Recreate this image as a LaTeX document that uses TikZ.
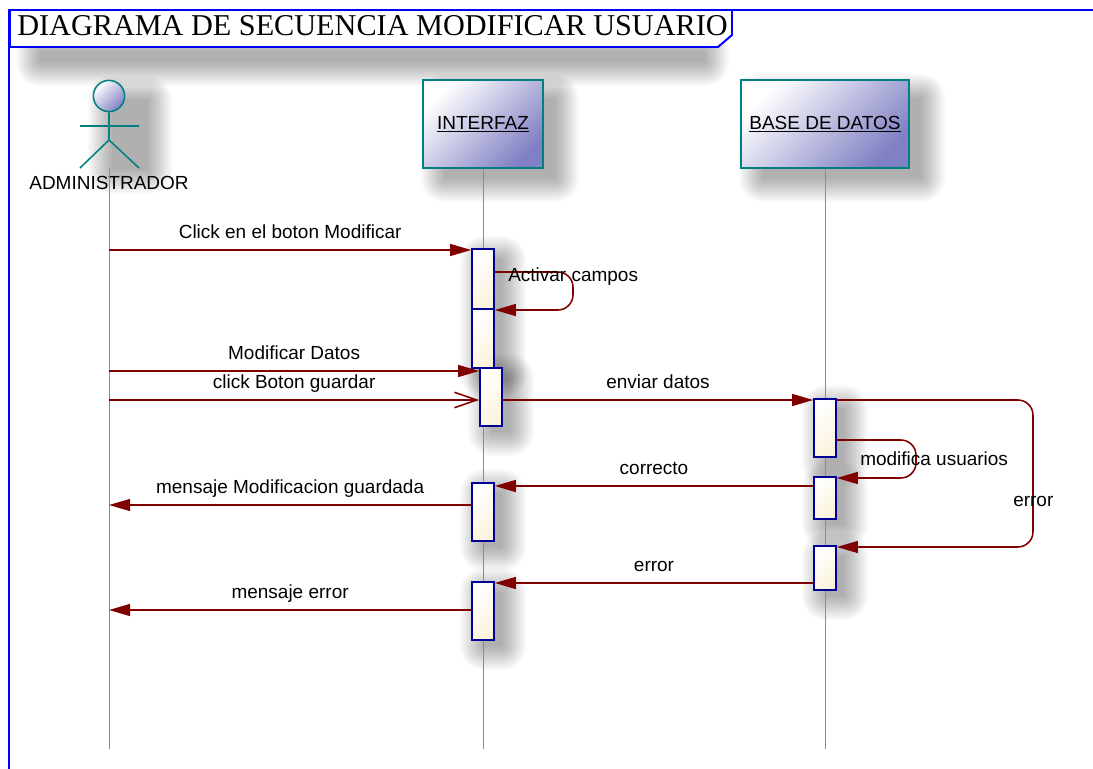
\documentclass[tikz,border=0pt]{standalone}
\usepackage{fontspec}
\setmainfont{Liberation Serif}
\setsansfont{Liberation Sans}
\usetikzlibrary{arrows.meta, calc, positioning}
\definecolor{msgred}{RGB}{128,0,0}
\definecolor{objteal}{RGB}{0,128,128}
\definecolor{objlav}{RGB}{128,128,196}
\definecolor{actblue}{RGB}{0,0,150}
\definecolor{actcream}{RGB}{252,243,220}
\definecolor{lifeteal}{RGB}{70,170,170}
\definecolor{frameblue}{RGB}{0,0,255}
\newcommand{\lblfont}{\sffamily\fontsize{13.5}{16}\selectfont}
\newcommand{\softshadow}[4]{%
  \foreach \r [evaluate=\r as \rc using \r*0.7+0.1] in {0,1.5,...,24}
    {\fill[black, opacity=0.02, rounded corners=\rc pt]
       (#1-\r,#2-\r) rectangle (#3+\r,#4+\r);}}

\begin{document}
\begin{tikzpicture}[% styles used in the diagram
          x = 0.025cm, y = -0.025cm,
          > = {Triangle[length=15pt, width=8.5pt]},
obj/.style = {draw=objteal, line width=1.1pt,
              top color=white, bottom color=objlav, shading angle=45,
              minimum height=2.2cm, inner sep=0pt, font=\lblfont},
head/.style = {circle, draw=objteal, line width=1.1pt,
              top color=white, bottom color=objlav, shading angle=45,
              minimum size=0.78cm, inner sep=0pt},
act/.style = {draw=actblue, line width=1.1pt,
              top color=white, bottom color=actcream, shading angle=45,
              minimum width=0.55cm, inner sep=0pt},
msg/.style = {draw=msgred, line width=1.1pt, ->},
open msg/.style = {msg, -{Straight Barb[length=16pt, width=11pt]}},
self msg/.style = {msg, rounded corners=0.38cm},
life/.style = {draw=lifeteal, line width=0.5pt},
lbl/.style = {font=\lblfont, inner sep=0pt, anchor=base, yshift=8.5pt},
note/.style = {font=\lblfont, inner sep=0pt, anchor=base west}
                    ]
	\useasboundingbox (0,0) rectangle (1093,769);
	\fill[white] (0,0) rectangle (1093,769);

	% shadows
	\softshadow{40}{52}{705}{62}
	\softshadow{112}{100}{148}{170}
	\softshadow{445}{98}{555}{178}
	\softshadow{763}{98}{921}{178}
	\softshadow{484}{260}{502}{374}
	\softshadow{492}{378}{510}{432}
	\softshadow{826}{409}{844}{463}
	\softshadow{826}{487}{844}{525}
	\softshadow{826}{556}{844}{596}
	\softshadow{484}{493}{502}{547}
	\softshadow{484}{592}{502}{646}

	% frame and title
	\draw[frameblue, line width=1.4pt] (9,800) -- (9,10) -- (1120,10);
	\filldraw[fill=white, draw=frameblue, line width=1.4pt]
	    (10,10) -- (732,10) -- (732,35) -- (718,47) -- (10,47) -- cycle;
	\node[anchor=base west, inner sep=0pt, font=\rmfamily\fontsize{21.5}{24}\selectfont]
	    (title) at (17,35) {DIAGRAMA DE SECUENCIA MODIFICAR USUARIO};

	% actor and objects
	\node[head] (admin) at (109,96) {};
	\draw[objteal, line width=1.1pt] (admin.south) -- (109,139)
	    (80,126) -- (139,126) (109,140) -- (80,168) (109,140) -- (139,168);
	\node[font=\lblfont, inner sep=0pt, anchor=base] (adminlbl) at (109,189) {ADMINISTRADOR};
	\node[obj, minimum width=3cm] (interfaz) at (483,124) {\underline{INTERFAZ}};
	\node[obj, minimum width=4.2cm] (bd) at (825,124) {\underline{BASE DE DATOS}};

	% lifelines
	\coordinate (bottom) at (0,749);
	\coordinate (adminlife) at (109,168);
	\draw[life] (adminlife) -- (adminlife |- bottom);
	\draw[life] (interfaz.south) -- (interfaz.south |- bottom);
	\draw[life] (bd.south) -- (bd.south |- bottom);

	% activations
	\node[act, minimum height=1.5cm]   (a1) at (483,279) {};
	\node[act, minimum height=1.475cm] (a2) at (483,338.5) {};
	\node[act, minimum height=1.45cm]  (a3) at (491,397) {};
	\node[act, minimum height=1.45cm]  (b1) at (825,428) {};
	\node[act, minimum height=1.05cm]  (b2) at (825,498) {};
	\node[act, minimum height=1.1cm]   (b3) at (825,568) {};
	\node[act, minimum height=1.45cm]  (a4) at (483,512) {};
	\node[act, minimum height=1.45cm]  (a5) at (483,611) {};

	% messages
	\draw[msg] (adminlife |- 0,250) -- (a1.west |- 0,250)
	    node[lbl, midway] {Click en el boton Modificar};
	\draw[self msg] (a1.east |- 0,272) -| (573,310) -- (a2.east |- 0,310);
	\node[note] (lblact) at (508,281) {Activar campos};
	\draw[msg] (adminlife |- 0,371) -- (a3.west |- 0,371)
	    node[lbl, midway] {Modificar Datos};
	\draw[open msg] (adminlife |- 0,400) -- (a3.west |- 0,400)
	    node[lbl, midway] {click Boton guardar};
	\draw[msg] (a3.east |- 0,400) -- (b1.west |- 0,400)
	    node[lbl, midway] {enviar datos};
	\draw[self msg] (b1.east |- 0,440) -| (916,478) -- (b2.east |- 0,478);
	\node[note] (lblmod) at (860,465) {modifica usuarios};
	\draw[self msg] (b1.east |- 0,400) -| (1033,547) -- (b3.east |- 0,547);
	\node[note] (lblerr) at (1013,506) {error};
	\draw[msg] (b2.west |- 0,486) -- (a4.east |- 0,486)
	    node[lbl, midway] {correcto};
	\draw[msg] (a4.west |- 0,505) -- (adminlife |- 0,505)
	    node[lbl, midway] {mensaje Modificacion guardada};
	\draw[msg] (b3.west |- 0,583) -- (a5.east |- 0,583)
	    node[lbl, midway] {error};
	\draw[msg] (a5.west |- 0,610) -- (adminlife |- 0,610)
	    node[lbl, midway] {mensaje error};
\end{tikzpicture}
\end{document}
